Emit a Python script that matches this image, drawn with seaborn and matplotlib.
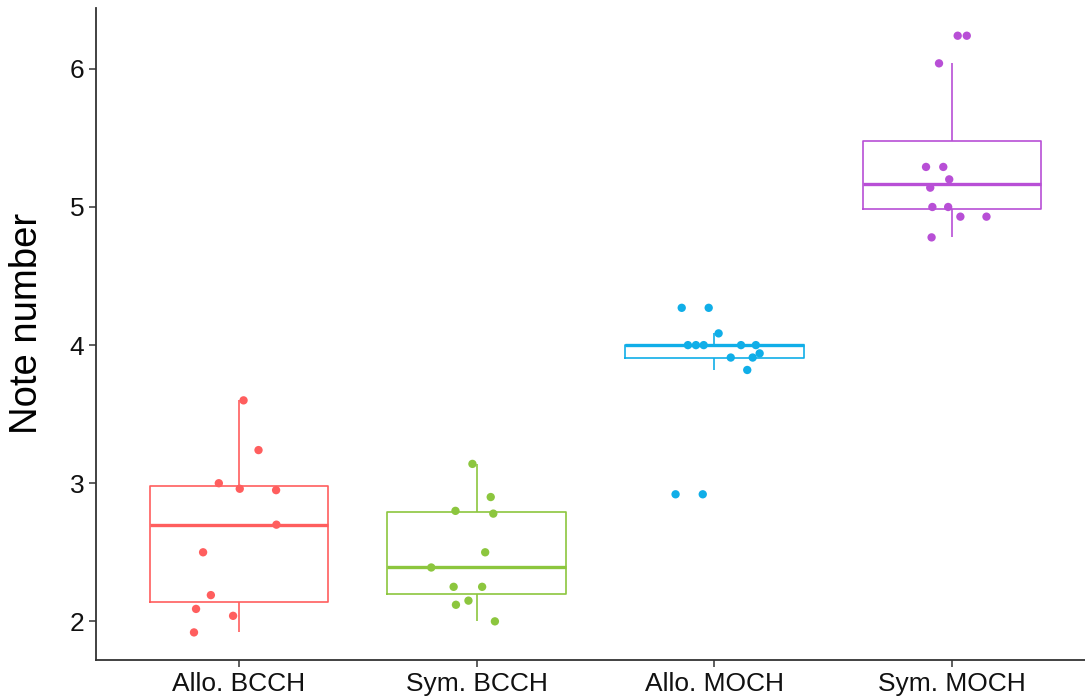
import numpy as np
import pandas as pd
import matplotlib
matplotlib.use("Agg")
import matplotlib.pyplot as plt
import seaborn as sns

# values
groups = ["Allo. BCCH", "Sym. BCCH", "Allo. MOCH", "Sym. MOCH"]
allo_bcch = [3.6, 3.24, 3.0, 2.96, 2.95, 2.7, 2.5, 2.19, 2.09, 2.04, 1.92]
sym_bcch = [3.14, 2.9, 2.8, 2.78, 2.5, 2.39, 2.25, 2.25, 2.15, 2.12, 2.0]
allo_moch = [4.27, 4.27, 4.085, 4.0, 4.0, 4.0, 4.0, 4.0, 3.94, 3.91, 3.91, 3.82, 2.92, 2.92]
sym_moch = [6.24, 6.24, 6.04, 5.29, 5.29, 5.2, 5.14, 5.0, 5.0, 4.93, 4.93, 4.78]
colors = ["#FF5E5E", "#8CC63E", "#10AEE8", "#B84FD6"]
y_ticks = [2, 3, 4, 5, 6]

df = pd.DataFrame({
    "group": np.repeat(groups, [len(allo_bcch), len(sym_bcch), len(allo_moch), len(sym_moch)]),
    "notes": allo_bcch + sym_bcch + allo_moch + sym_moch,
})

sns.set_style("ticks")
plt.rcParams["font.family"] = ["Liberation Sans", "DejaVu Sans"]

fig = plt.figure(figsize=(10.85, 6.98), dpi=100)
ax = fig.add_axes([0.0885, 0.0544, 0.9206, 0.934])

sns.boxplot(
    data=df, x="group", y="notes", hue="group", order=groups, hue_order=groups,
    palette=colors, fill=False, width=0.75, whis=1.5, showfliers=False,
    showcaps=False, linewidth=1.2, medianprops={"linewidth": 2.4},
    legend=False, ax=ax,
)

np.random.seed(3)
sns.stripplot(
    data=df, x="group", y="notes", hue="group", order=groups, hue_order=groups,
    palette=colors, jitter=0.2, size=6, linewidth=0, legend=False, ax=ax, zorder=5,
)

ax.set_xlim(-0.6, 3.6)
ax.set_ylim(1.72, 6.44)
ax.set_yticks(y_ticks)
ax.set_xlabel("")
ax.set_ylabel("Note number", fontsize=27.5, color="black")
ax.yaxis.set_label_coords(-0.051, 0.517)
ax.tick_params(axis="both", labelsize=19, length=5, width=1.1, color="#333333", labelcolor="#111111")
sns.despine(ax=ax)
for side in ["left", "bottom"]:
    ax.spines[side].set_color("#333333")
    ax.spines[side].set_linewidth(1.3)

fig.savefig("out.png", dpi=100)
